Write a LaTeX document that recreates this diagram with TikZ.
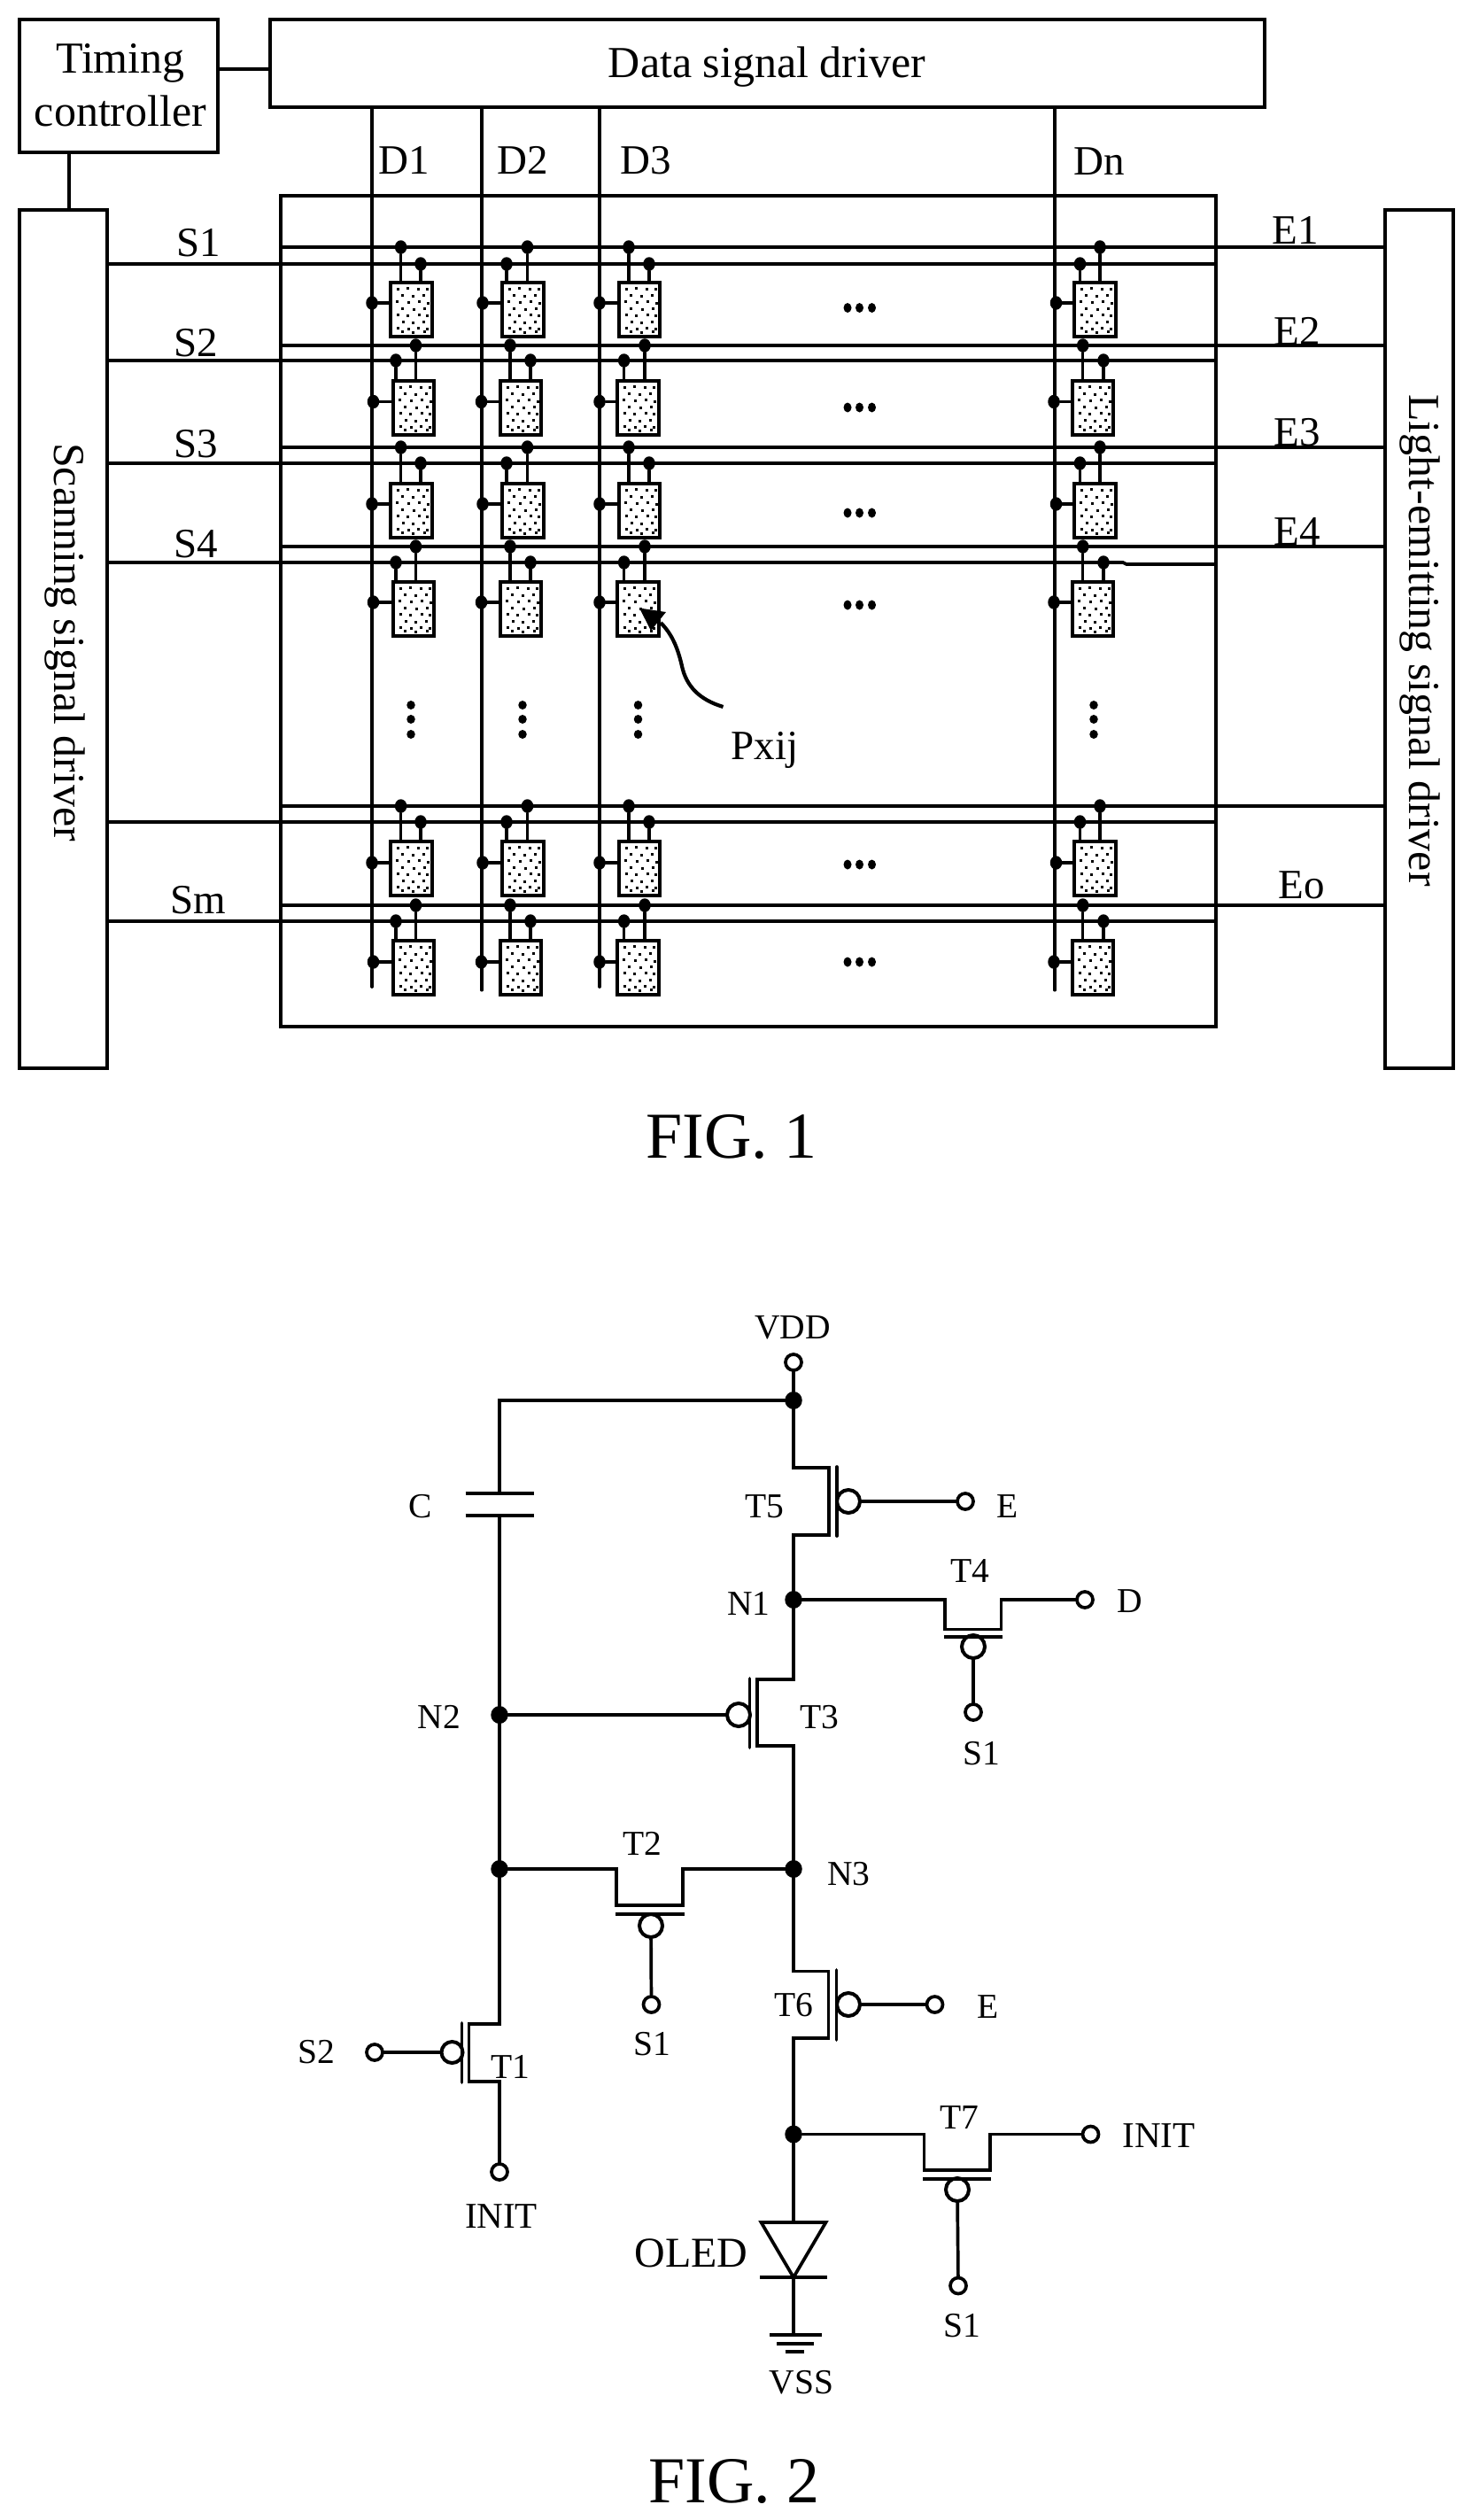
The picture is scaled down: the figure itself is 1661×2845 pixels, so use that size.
\documentclass[tikz,border=0pt]{standalone}
\usepackage{fontspec}
\setmainfont{Liberation Serif}
\usetikzlibrary{shapes.geometric}
\newcommand{\fsz}[1]{\fontsize{#1pt}{#1pt}\selectfont}
\tikzset{
  wire/.style={draw=black,line width=3.7pt,line cap=round,line join=miter},
  thinwire/.style={draw=black,line width=3.1pt,line cap=round},
  blockbox/.style={draw=black,line width=4pt,rectangle,inner sep=0pt,outer sep=0pt,anchor=north west},
  pixelbox/.style={draw=black,line width=4pt,rectangle,inner sep=0pt,outer sep=0pt,anchor=north west,fill=white},
  joint/.style={ellipse,fill=black,inner sep=0pt,minimum width=13.5pt,minimum height=15.5pt},
  bigjoint/.style={ellipse,fill=black,inner sep=0pt,minimum width=19.5pt,minimum height=20pt},
  dotmark/.style={ellipse,fill=black,inner sep=0pt,minimum width=9pt,minimum height=11pt},
  terminal/.style={circle,draw=black,fill=white,line width=3.7pt,inner sep=0pt,minimum size=18pt},
  bubble/.style={circle,draw=black,fill=white,line width=4pt,inner sep=0pt,minimum size=26pt},
  lab/.style={inner sep=0pt,anchor=base,font=\fsz{39.5}},
  biglab/.style={inner sep=0pt,anchor=base,font=\fsz{50}},
  midlab/.style={inner sep=0pt,anchor=base,font=\fsz{47}},
  figlab/.style={inner sep=0pt,anchor=base,font=\fsz{74}},
}
% one pixel of the array: {col}{data x}{box left}{box right}{upper stem x}{lower stem x}
\newcommand{\pxcell}[6]{%
  \node[pixelbox,minimum width={(#4-#3)*1pt},minimum height=61pt] (box-\r-#1) at (#3,\yt) {};
  \foreach \px/\py in {7/6,18/5,30/6,40/6,12/13,24/14,36/13,6/20,19/21,31/20,41/22,12/28,25/29,37/28,7/35,18/36,31/35,40/36,13/43,24/44,36/43,7/50,19/51,30/50,40/51,12/54,24/55,37/54}
    \fill ({#3+\px},{\yt+\py}) rectangle ++(3,3.2);
  \node[joint] (eu-\r-#1) at (#5,\ye) {};
  \node[joint] (sl-\r-#1) at (#6,\ys) {};
  \node[joint] (ld-\r-#1) at (#2,\yl) {};
  \draw[thinwire] (eu-\r-#1) -- (eu-\r-#1 |- box-\r-#1.north);
  \draw[thinwire] (sl-\r-#1) -- (sl-\r-#1 |- box-\r-#1.north);
  \draw[wire] (ld-\r-#1) -- (ld-\r-#1 -| box-\r-#1.west);
}
\begin{document}
\begin{tikzpicture}[x=1pt,y=-1pt]
\useasboundingbox[fill=white] (0,0) rectangle (1661,2845);

%% ---------- FIG. 1 ----------
\node[blockbox,minimum width=224pt,minimum height=150pt] (timing) at (22,22) {};
\node[blockbox,minimum width=1123pt,minimum height=99pt] (data) at (305,22) {};
\node[blockbox,minimum width=99pt,minimum height=969pt] (scan) at (22,237) {};
\node[blockbox,minimum width=77pt,minimum height=969pt] (emit) at (1564,237) {};
\node[blockbox,minimum width=1056pt,minimum height=938pt] (panel) at (317,221) {};
\draw[wire] (timing.east |- 0,78) -- (data.west |- 0,78);
\draw[wire] (timing.south -| 78,0) -- (scan.north -| 78,0);

\node[biglab] (tTiming) at (136,82.5) {Timing};
\node[biglab] (tCtrl) at (136,142) {controller};
\node[biglab] (tData) at (866,87) {Data signal driver};
\node[biglab,rotate=-90] (tScan) at (61,725) {Scanning signal driver};
\node[biglab,rotate=-90] (tEmit) at (1591,723) {Light-emitting signal driver};

\node[midlab] (tD1) at (456.5,196.5) {D1};
\node[midlab] (tD2) at (590.5,196.5) {D2};
\node[midlab] (tD3) at (729,196.5) {D3};
\node[midlab] (tDn) at (1241,197) {Dn};
\node[midlab] (tS1) at (224.5,289) {S1};
\node[midlab] (tS2) at (221,402) {S2};
\node[midlab] (tS3) at (221,516.5) {S3};
\node[midlab] (tS4) at (221,629) {S4};
\node[midlab] (tSm) at (223.5,1031.5) {Sm};
\node[midlab] (tE1) at (1463,275.5) {E1};
\node[midlab] (tE2) at (1465,389) {E2};
\node[midlab] (tE3) at (1465,503) {E3};
\node[midlab] (tE4) at (1465,615) {E4};
\node[midlab] (tEo) at (1470,1014) {Eo};
\node[midlab] (tPx) at (863.5,857) {Pxij};

% data lines
\foreach \c/\xd/\yb/\st in {1/420/1114/wire,2/544/1118/thinwire,3/677/1114/wire,n/1191/1118/thinwire}{
  \coordinate (dend\c) at (\xd,\yb);
  \draw[\st] (data.south -| dend\c) -- (dend\c);
}
% emission and scan lines
\foreach \r/\ye/\ys in {1/279/298,2/390/407,3/505/523,5/910/928,6/1022/1040}{
  \draw[wire] (panel.west |- 0,\ye) -- (emit.west |- 0,\ye);
  \draw[wire] (scan.east |- 0,\ys) -- (panel.east |- 0,\ys);
}
\draw[wire] (panel.west |- 0,617) -- (emit.west |- 0,617);
\draw[wire] (scan.east |- 0,635) -- (1268,635) -- (1272,637) -- (panel.east |- 0,637);

% odd rows
\foreach \r/\ye/\ys/\yt/\yl/\ydot in {1/279/298/319/342/347.5,3/505/523/546/569/579,5/910/928/950/974/976}{
  \pxcell{1}{420}{441}{488}{452.6}{475}
  \pxcell{2}{545}{567}{614}{595.5}{572}
  \pxcell{3}{677}{699}{745}{710}{733}
  \pxcell{n}{1192.5}{1213}{1260}{1242}{1219.5}
  \node[dotmark] (hd1\r) at (957,\ydot) {};
  \node[dotmark] (hd2\r) at (970.5,\ydot) {};
  \node[dotmark] (hd3\r) at (984.5,\ydot) {};
}
% even rows
\foreach \r/\ye/\ys/\yt/\yl/\ydot in {2/390/407/430/453.5/460,4/617/635/657/680/683,6/1022/1040/1062/1086/1086}{
  \pxcell{1}{421.5}{444}{490}{469.5}{447}
  \pxcell{2}{543.5}{565}{611}{576}{599}
  \pxcell{3}{677}{697}{744}{728}{704.6}
  \pxcell{n}{1190}{1211}{1257}{1222.7}{1246}
  \node[dotmark] (hd1\r) at (957,\ydot) {};
  \node[dotmark] (hd2\r) at (970.5,\ydot) {};
  \node[dotmark] (hd3\r) at (984.5,\ydot) {};
}
% vertical ellipses
\foreach \c/\xv in {1/464,2/590,3/720.5,n/1235}{
  \node[dotmark,minimum width=9.5pt,minimum height=10pt] (vd1\c) at (\xv,796) {};
  \node[dotmark,minimum width=9.5pt,minimum height=10pt] (vd2\c) at (\xv,812) {};
  \node[dotmark,minimum width=9.5pt,minimum height=10pt] (vd3\c) at (\xv,829) {};
}
% Pxij pointer
\coordinate (ptail) at (816.5,798);
\coordinate (phead) at (746,703);
\draw[line width=4.2pt,line cap=butt] (ptail) .. controls (790,790) and (775,775) .. (770,752) .. controls (765,730) and (758,715) .. (phead);
\fill (722,686.5) -- (752,691) -- (735,712) -- cycle;

\node[figlab] (fig1) at (826,1307) {FIG. 1};

%% ---------- FIG. 2 ----------
\node[terminal] (vdd) at (896,1538) {};
\node[bigjoint] (jtop) at (896,1581) {};
\node[bigjoint] (n1) at (896,1806) {};
\node[bigjoint] (n3) at (896,2110) {};
\node[bigjoint] (joled) at (896,2409.5) {};
\node[bigjoint] (n2) at (564,1936) {};
\node[bigjoint] (n2b) at (564,2110) {};

\coordinate (capa) at (564,1685.5);
\coordinate (capb) at (564,1711);
\draw[wire] (vdd) -- (jtop);
\draw[wire] (jtop) -- (564,1581) -- (capa);
\draw[line width=4pt] (525.5,1685.5) -- (602.5,1685.5);
\draw[line width=4pt] (525.5,1711) -- (602.5,1711);
\draw[wire] (capb) -- (n2);
\draw[wire] (n2) -- (n2b);

% T5
\node[bubble] (b5) at (958,1695) {};
\node[terminal] (e5) at (1090,1695) {};
\draw[wire] (jtop) -- (896,1657) -- (936,1657) -- (936,1733) -- (896,1733) -- (n1);
\draw[wire] (945,1656) -- (945,1734);
\draw[wire] (b5) -- (e5);
% T3
\node[bubble] (b3) at (834,1936) {};
\draw[wire] (n1) -- (896,1896) -- (855,1896) -- (855,1971) -- (896,1971) -- (n3);
\draw[wire] (846.5,1895) -- (846.5,1973);
\draw[wire] (n2) -- (b3);
% T4
\node[terminal] (dterm) at (1225,1806) {};
\node[bubble] (b4) at (1099,1859) {};
\node[terminal] (s4) at (1099,1933) {};
\draw[wire] (n1) -- (1067,1806) -- (1067,1839.5) -- (1130.5,1839.5) -- (1130.5,1806) -- (dterm);
\draw[line width=4pt] (1066,1848) -- (1132,1848);
\draw[wire] (b4) -- (s4);
% T2
\node[bubble] (b2) at (735,2174) {};
\node[terminal] (s2t) at (735.5,2263) {};
\draw[wire] (n2b) -- (696,2110) -- (696,2151) -- (771,2151) -- (771,2110) -- (n3);
\draw[line width=4pt] (695,2160.5) -- (772.5,2160.5);
\draw[wire] (b2) -- (s2t);
% T6
\node[bubble] (b6) at (958,2263) {};
\node[terminal] (e6) at (1055.5,2263) {};
\draw[wire] (n3) -- (896,2225.5) -- (935.5,2225.5) -- (935.5,2301) -- (896,2301) -- (joled);
\draw[wire] (944.5,2224) -- (944.5,2303);
\draw[wire] (b6) -- (e6);
% T1
\node[bubble,minimum size=24pt] (b1) at (510.5,2317) {};
\node[terminal] (s2in) at (423,2317) {};
\node[terminal] (init1) at (564,2452) {};
\draw[wire] (n2b) -- (564,2285) -- (529.5,2285) -- (529.5,2350) -- (564,2350) -- (init1);
\draw[wire] (521.5,2284) -- (521.5,2351);
\draw[wire] (b1) -- (s2in);
% T7
\node[bubble] (b7) at (1081,2472) {};
\node[terminal] (init2) at (1231.5,2409.5) {};
\node[terminal] (s7) at (1082,2580.5) {};
\draw[wire] (joled) -- (1043.5,2409.5) -- (1043.5,2450) -- (1118,2450) -- (1118,2409.5) -- (init2);
\draw[line width=4pt] (1042,2460) -- (1119,2460);
\draw[wire] (b7) -- (s7);
% OLED and ground
\coordinate (oledtop) at (896,2509);
\coordinate (oledbot) at (896,2571);
\draw[wire] (joled) -- (oledtop);
\draw[line width=3.7pt,line join=miter] (859.5,2509) -- (932.5,2509) -- (oledbot) -- cycle;
\draw[line width=4pt] (858,2571) -- (934,2571);
\coordinate (gnd) at (896,2636);
\draw[wire] (oledbot) -- (gnd);
\draw[line width=4pt] (869,2636) -- (928,2636);
\draw[line width=4pt] (877,2645.5) -- (919,2645.5);
\draw[line width=4pt] (886.5,2655) -- (908,2655);

\node[lab] (lVDD) at (895,1511) {VDD};
\node[lab] (lC) at (474.5,1713) {C};
\node[lab] (lT5) at (863.5,1713) {T5};
\node[lab] (lE5) at (1138,1713) {E};
\node[lab] (lT4) at (1095,1786) {T4};
\node[lab] (lN1) at (845.5,1823) {N1};
\node[lab] (lD) at (1275.5,1820) {D};
\node[lab] (lN2) at (496,1951) {N2};
\node[lab] (lT3) at (925.5,1951) {T3};
\node[lab] (lS14) at (1108,1992) {S1};
\node[lab] (lT2) at (725.5,2094) {T2};
\node[lab] (lN3) at (958.5,2128) {N3};
\node[lab] (lT6) at (896,2276) {T6};
\node[lab] (lE6) at (1115.5,2278.5) {E};
\node[lab] (lS12) at (736.5,2320.5) {S1};
\node[lab] (lS2) at (357,2329) {S2};
\node[lab] (lT1) at (576.5,2346) {T1};
\node[lab] (lT7) at (1083,2403) {T7};
\node[lab,font=\fsz{41}] (lINIT2) at (1308.5,2424) {INIT};
\node[lab,font=\fsz{41}] (lINIT1) at (566,2515) {INIT};
\node[lab,font=\fsz{48}] (lOLED) at (780.5,2559) {OLED};
\node[lab] (lS17) at (1086.5,2638) {S1};
\node[lab] (lVSS) at (905,2702) {VSS};

\node[figlab] (fig2) at (829,2825) {FIG. 2};
\end{tikzpicture}
\end{document}
